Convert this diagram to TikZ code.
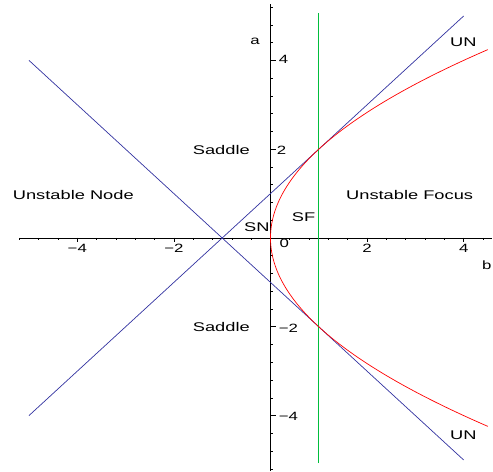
\documentclass[tikz,border=0pt]{standalone}
\usepackage{fontspec}
\setmainfont{Liberation Sans}
\newcommand\stx[1]{\scalebox{1.4}[1]{#1}}
\newcommand\stl[1]{\scalebox{1.45}[1]{#1}}
\definecolor{lineblue}{RGB}{50,50,160}
\definecolor{linegreen}{RGB}{0,190,60}
\begin{document}
\begin{tikzpicture}[x=48.3pt,y=44.4pt,
  lbl/.style={font=\fontsize{12.6}{14}\selectfont, inner sep=0pt, anchor=base west},
  tick/.style={font=\fontsize{12}{14}\selectfont, inner sep=0pt},
  axisline/.style={black, line width=0.8pt},
  tk/.style={black, line width=0.6pt},
  curve/.style={line width=0.7pt}]
\useasboundingbox (-5.600,-5.270) rectangle (4.607,5.360);
% axes
\draw[axisline] (-5.19,0) -- (4.586,0);
\draw[axisline] (0,-5.25) -- (0,5.26);
\foreach \i in {-13,...,11} \draw[tk] (\i*0.4,0) -- ++(0,-2.2pt);
\foreach \b in {-4,-2,2,4} \draw[tk] (\b,0) -- ++(0,-4.5pt);
\foreach \i in {-13,...,13} \draw[tk] (0,\i*0.4) -- ++(3pt,0);
\foreach \a in {-4,-2,2,4} \draw[tk] (0,\a) -- ++(5.5pt,0);
% tick labels
\node[tick, anchor=base] (xm4) at (-4,-0.331) {\stx{−4}};
\node[tick, anchor=base] (xm2) at (-2,-0.331) {\stx{−2}};
\node[tick, anchor=base] (xp2) at (2,-0.331) {\stx{2}};
\node[tick, anchor=base] (xp4) at (4,-0.331) {\stx{4}};
\node[tick, anchor=base] (x0) at (0.286,-0.209) {\stx{0}};
\node[tick, anchor=base west] (ya4) at (0.17,3.92) {\stx{4}};
\node[tick, anchor=base west] (ya2) at (0.13,1.89) {\stx{2}};
\node[tick, anchor=base west] (yam2) at (0.17,-2.12) {\stx{−2}};
\node[tick, anchor=base west] (yam4) at (0.17,-4.115) {\stx{−4}};
\node[tick, anchor=base] (alab) at (-0.321,4.347) {\stx{a}};
\node[tick, anchor=base] (blab) at (4.478,-0.721) {\stx{b}};
% curves
\draw[curve, lineblue] (-5,-4) -- (4,5);
\draw[curve, lineblue] (-5,4) -- (4,-5);
\draw[curve, linegreen] (1,-5.07) -- (1,5.06);
\draw[curve, red] plot[variable=\t, domain=-4.243:4.243, samples=120, smooth] ({\t*\t/4},{\t});
% region labels
\node[lbl] (un1) at (-5.337,0.878) {\stl{Unstable Node}};
\node[lbl] (uf) at (1.563,0.878) {\stl{Unstable Focus}};
\node[lbl] (sad1) at (-1.611,1.885) {\stl{Saddle}};
\node[lbl] (sad2) at (-1.611,-2.095) {\stl{Saddle}};
\node[lbl] (sn) at (-0.549,0.142) {\stl{SN}};
\node[lbl] (sf) at (0.439,0.367) {\stl{SF}};
\node[lbl] (un2) at (3.716,4.309) {\stl{UN}};
\node[lbl] (un3) at (3.716,-4.534) {\stl{UN}};
\end{tikzpicture}
\end{document}
